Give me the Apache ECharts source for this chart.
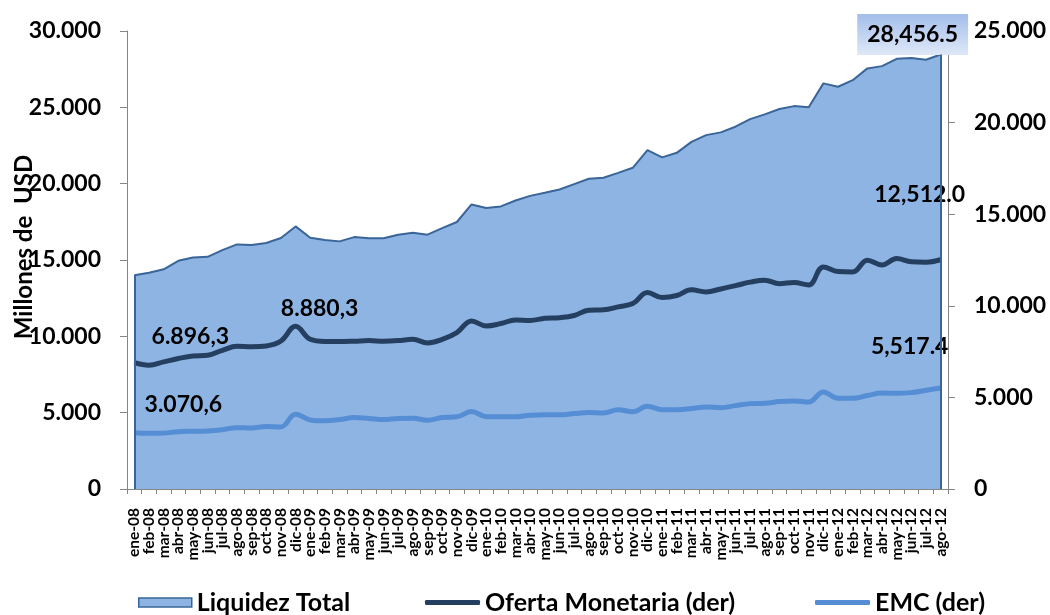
<!DOCTYPE html>
<html>
<head>
<meta charset="utf-8">
<title>Liquidez Total, Oferta Monetaria y EMC</title>
<script src="https://cdn.jsdelivr.net/npm/echarts@6/dist/echarts.min.js"></script>
<style>
  html, body { margin: 0; padding: 0; background: #ffffff; }
  #chart { width: 1050px; height: 615px; }
</style>
</head>
<body>
<div id="chart"></div>
<script>
// Monthly categories, ene-08 .. ago-12
const months = [
  'ene-08','feb-08','mar-08','abr-08','may-08','jun-08','jul-08','ago-08','sep-08','oct-08','nov-08','dic-08',
  'ene-09','feb-09','mar-09','abr-09','may-09','jun-09','jul-09','ago-09','sep-09','oct-09','nov-09','dic-09',
  'ene-10','feb-10','mar-10','abr-10','may-10','jun-10','jul-10','ago-10','sep-10','oct-10','nov-10','dic-10',
  'ene-11','feb-11','mar-11','abr-11','may-11','jun-11','jul-11','ago-11','sep-11','oct-11','nov-11','dic-11',
  'ene-12','feb-12','mar-12','abr-12','may-12','jun-12','jul-12','ago-12'
];

// Liquidez Total, millones de USD (left axis)
const liquidezTotal = [
  14000, 14170, 14390, 14950, 15170, 15210, 15650, 16020, 15980, 16110, 16440, 17200,
  16460, 16310, 16220, 16500, 16420, 16420, 16660, 16790, 16660, 17090, 17490, 18640,
  18400, 18510, 18900, 19200, 19400, 19620, 19970, 20320, 20390, 20710, 21040, 22200,
  21720, 22020, 22740, 23180, 23360, 23730, 24230, 24540, 24890, 25080, 25000, 26570,
  26350, 26780, 27550, 27700, 28180, 28230, 28120, 28456.5
];

// Oferta Monetaria, millones de USD (right axis)
const ofertaMonetaria = [
  6896.3, 6760, 6940, 7120, 7260, 7300, 7570, 7790, 7770, 7810, 8080, 8880.3,
  8170, 8050, 8050, 8070, 8100, 8070, 8100, 8170, 7970, 8170, 8540, 9170,
  8900, 9030, 9230, 9200, 9320, 9350, 9470, 9760, 9780, 9940, 10120, 10720,
  10450, 10560, 10870, 10760, 10920, 11100, 11290, 11400, 11210, 11270, 11140, 12120,
  11870, 11850, 12490, 12230, 12580, 12400, 12380, 12512.0
];

// Especies monetarias en circulación (EMC), millones de USD (right axis)
const emc = [
  3070.6, 3040, 3050, 3130, 3150, 3170, 3240, 3350, 3330, 3410, 3390, 4080,
  3770, 3720, 3790, 3900, 3850, 3790, 3850, 3860, 3750, 3900, 3940, 4230,
  3950, 3940, 3940, 4030, 4050, 4050, 4120, 4170, 4150, 4330, 4210, 4520,
  4330, 4330, 4390, 4480, 4440, 4550, 4660, 4680, 4770, 4810, 4750, 5300,
  4950, 4950, 5100, 5240, 5220, 5260, 5390, 5517.4
];

const leftTicks = { min: 0, max: 30000, interval: 5000 };
const rightTicks = { min: 0, max: 25000, interval: 5000 };

const FONT = 'Lato, "Open Sans", sans-serif';

// number formatting: thousands separator, decimal separator, decimals
function fmt(v, thou, dec, digits) {
  const fixed = Number(v).toFixed(digits);
  const parts = fixed.split('.');
  const intPart = parts[0].replace(/\B(?=(\d{3})+(?!\d))/g, thou);
  return digits > 0 ? intPart + dec + parts[1] : intPart;
}
const fmtES = v => fmt(v, '.', ',', 1);
const fmtUS = v => fmt(v, ',', '.', 1);
const fmtAxis = v => fmt(v, '.', ',', 0);

const valueLabelStyle = {
  show: true,
  position: 'inside',
  fontFamily: FONT,
  fontWeight: 'bold',
  fontSize: 23,
  color: '#000000'
};

// attach a value label to selected points of a series
function withLabels(values, labels) {
  return values.map((v, i) => {
    const l = labels[i];
    if (!l) return v;
    return {
      value: v,
      symbol: 'circle',
      symbolSize: 1,
      label: Object.assign({}, valueLabelStyle, { formatter: p => l.format(p.value) }, l.style)
    };
  });
}

const liqData = withLabels(liquidezTotal, {
  [liquidezTotal.length - 1]: {
    format: fmtUS,
    style: {
      offset: [-28, -20],
      padding: [10, 10, 8, 10],
      backgroundColor: new echarts.graphic.LinearGradient(0, 0, 0, 1, [
        { offset: 0, color: '#A3BEEA' },
        { offset: 1, color: '#DFE8F8' }
      ])
    }
  }
});

const ofertaData = withLabels(ofertaMonetaria, {
  0: { format: fmtES, style: { offset: [56, -26] } },
  11: { format: fmtES, style: { offset: [24, -18] } },
  [ofertaMonetaria.length - 1]: { format: fmtUS, style: { offset: [-21, -65] } }
});

const emcData = withLabels(emc, {
  0: { format: fmtES, style: { offset: [49, -28] } },
  [emc.length - 1]: { format: fmtUS, style: { offset: [-31, -41] } }
});

const lastIdx = months.length - 1;
const axisGrey = '#868686';
const legendText = { fontFamily: FONT, fontWeight: 'bold', fontSize: 25, color: '#000' };

const chart = echarts.init(document.getElementById('chart'), null, { renderer: 'canvas' });

chart.setOption({
  animation: false,
  backgroundColor: '#ffffff',
  grid: { left: 127, right: 102, top: 31, bottom: 126, containLabel: false, outerBoundsMode: 'none' },
  legend: [
    {
      left: 133, top: 585,
      itemWidth: 53, itemHeight: 9, itemGap: 10,
      textStyle: legendText,
      data: [{ name: 'Liquidez Total', icon: 'rect',
               itemStyle: { color: '#8EB4E3', borderColor: '#3A6598', borderWidth: 1.5 } }]
    },
    {
      left: 420, top: 585,
      itemWidth: 55, itemHeight: 5,
      textStyle: legendText,
      data: [{ name: 'Oferta Monetaria (der)', icon: 'roundRect', itemStyle: { color: '#243F60' } }]
    },
    {
      left: 810, top: 585,
      itemWidth: 55, itemHeight: 5,
      textStyle: legendText,
      data: [{ name: 'EMC (der)', icon: 'roundRect', itemStyle: { color: '#558ED5' } }]
    }
  ],
  xAxis: {
    type: 'category',
    data: months,
    boundaryGap: true,
    axisLine: { lineStyle: { color: axisGrey, width: 1 } },
    axisTick: { show: true, length: 5, lineStyle: { color: axisGrey } },
    axisLabel: {
      interval: 0,
      rotate: 90,
      margin: 19,
      fontFamily: FONT,
      fontWeight: 'bold',
      fontSize: 15.5,
      color: '#000'
    },
    splitLine: { show: false }
  },
  yAxis: [
    {
      type: 'value',
      min: leftTicks.min, max: leftTicks.max, interval: leftTicks.interval,
      position: 'left',
      name: 'Millones de  USD',
      nameLocation: 'middle',
      nameGap: 91,
      nameRotate: 90,
      nameMoveOverlap: false,
      nameTextStyle: { fontFamily: FONT, fontWeight: 'bold', fontSize: 24, color: '#000', padding: [0, 0, 0, 26] },
      axisLine: { show: true, lineStyle: { color: axisGrey, width: 1 } },
      axisTick: { show: true, length: 7, lineStyle: { color: axisGrey } },
      axisLabel: {
        margin: 26,
        formatter: fmtAxis,
        fontFamily: FONT, fontWeight: 'bold', fontSize: 23, color: '#000'
      },
      splitLine: { show: false }
    },
    {
      type: 'value',
      min: rightTicks.min, max: rightTicks.max, interval: rightTicks.interval,
      position: 'right',
      axisLine: { show: true, lineStyle: { color: axisGrey, width: 1 } },
      axisTick: { show: true, length: 7, lineStyle: { color: axisGrey } },
      axisLabel: {
        margin: 26,
        formatter: fmtAxis,
        fontFamily: FONT, fontWeight: 'bold', fontSize: 23, color: '#000'
      },
      splitLine: { show: false }
    }
  ],
  series: [
    {
      name: 'Liquidez Total',
      type: 'line',
      yAxisIndex: 0,
      data: liqData,
      smooth: false,
      symbol: 'none',
      showSymbol: true,
      itemStyle: { color: '#3A6598' },
      lineStyle: { color: '#3A6598', width: 2 },
      areaStyle: { color: '#8EB4E3', opacity: 1 },
      z: 1,
      markLine: {
        silent: true,
        symbol: 'none',
        label: { show: false },
        lineStyle: { color: '#3A6598', width: 2, type: 'solid' },
        data: [
          [{ coord: [months[0], 0] }, { coord: [months[0], liquidezTotal[0]] }],
          [{ coord: [months[lastIdx], 0] }, { coord: [months[lastIdx], liquidezTotal[lastIdx]] }]
        ]
      }
    },
    {
      name: 'Oferta Monetaria (der)',
      type: 'line',
      yAxisIndex: 1,
      data: ofertaData,
      smooth: 0.4,
      symbol: 'none',
      showSymbol: true,
      itemStyle: { color: '#243F60' },
      lineStyle: { color: '#243F60', width: 5 },
      z: 3
    },
    {
      name: 'EMC (der)',
      type: 'line',
      yAxisIndex: 1,
      data: emcData,
      smooth: 0.4,
      symbol: 'none',
      showSymbol: true,
      itemStyle: { color: '#558ED5' },
      lineStyle: { color: '#558ED5', width: 5 },
      z: 2
    }
  ]
});
</script>
</body>
</html>
